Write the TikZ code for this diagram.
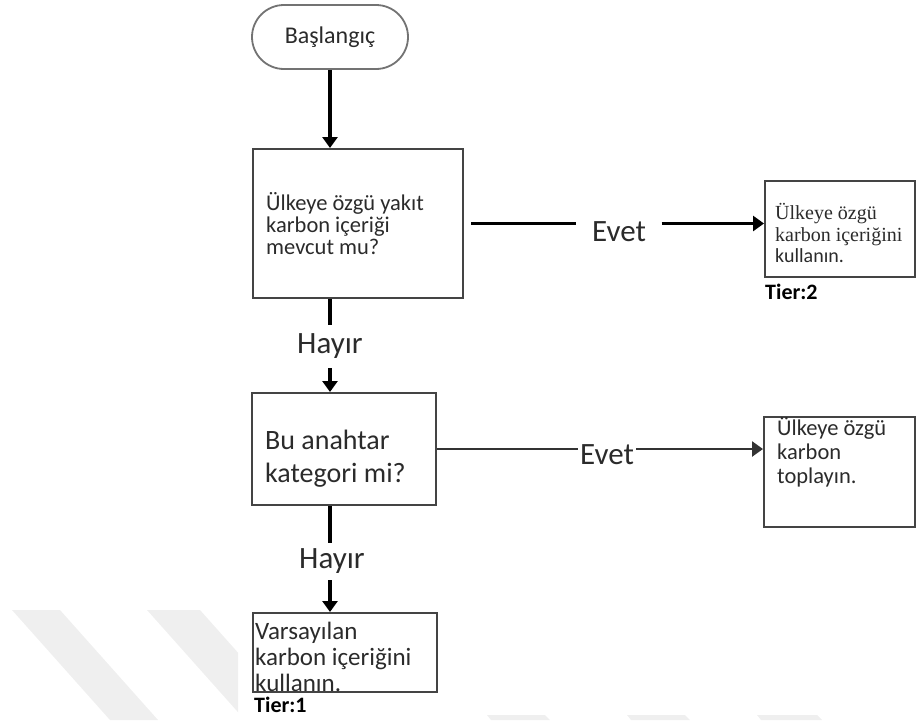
\documentclass[tikz,border=0pt]{standalone}
\usepackage{fontspec}
\setmainfont{Carlito}
\newfontfamily\serifff{Liberation Serif}
\usetikzlibrary{arrows.meta,shapes.misc}
\definecolor{txt}{HTML}{2B2B2B}
\definecolor{bord}{HTML}{444444}
\definecolor{wm}{HTML}{EFEFEF}
\tikzset{
  box/.style={draw=bord,line width=2pt,fill=white,inner sep=0pt},
  lbl/.style={inner sep=0pt,anchor=west,align=left,text=txt},
  con/.style={line width=3.5pt,black},
  arr/.style={con,-{Triangle[length=11pt,width=15pt]}},
  yn/.style={inner sep=0pt,text=txt,font={\fontsize{31}{31}\selectfont}},
  tier/.style={inner sep=0pt,anchor=west,text=black,font={\fontsize{22}{22}\selectfont\bfseries}}
}
\begin{document}
\begin{tikzpicture}[x=1pt,y=-1pt]
\useasboundingbox (0,0) rectangle (917,720);
% watermark stripes
\fill[wm] (12,610) -- (60,610) -- (158,720) -- (110,720) -- cycle;
\begin{scope}
\clip (0,600) rectangle (238,720);
\fill[wm] (147,610) -- (200,610) -- (298,720) -- (245,720) -- cycle;
\end{scope}
\fill[wm] (487,715) -- (545,715) -- (550,720) -- (491,720) -- cycle;
\fill[wm] (627,715) -- (685,715) -- (690,720) -- (631,720) -- cycle;
\fill[wm] (757,715) -- (817,715) -- (822,720) -- (761,720) -- cycle;

% start
\node[rounded rectangle,draw=black!55,line width=1.8pt,fill=white,minimum width=156pt,minimum height=64pt,inner sep=0pt,text=txt,font={\fontsize{24}{24}\selectfont}] (start) at (330,37) {Başlangıç};

% box 1
\node[box,minimum width=210pt,minimum height=149pt] (b1) at (358,223.5) {};
\node[lbl,font={\fontsize{22.5}{22}\selectfont}] (b1t) at (266,224) {Ülkeye özgü yakıt\\karbon içeriği\\mevcut mu?};

% box tier 2
\node[box,minimum width=150pt,minimum height=96pt] (b3) at (840,229) {};
\node[lbl,font={\fontsize{20}{21.5}\selectfont}] (b3t) at (775,233) {{\serifff Ülkeye özgü}\\{\serifff karbon içeriğini}\\kullanın.};
\node[tier] (tier2) at (765,292) {Tier:2};

% box 2
\node[box,minimum width=184pt,minimum height=112pt] (b2) at (344,449) {};
\node[lbl,font={\fontsize{28}{33}\selectfont}] (b2t) at (265,459) {Bu anahtar\\kategori mi?};

% box carbon
\node[box,minimum width=151pt,minimum height=110pt] (b4) at (839.5,472) {};
\node[lbl,font={\fontsize{22.5}{24}\selectfont}] (b4t) at (777,452) {Ülkeye özgü\\karbon\\toplayın.};

% box default
\node[box,minimum width=184pt,minimum height=79pt] (b5) at (345,652.5) {};
\node[lbl,font={\fontsize{25}{26}\selectfont}] (b5t) at (255,657) {Varsayılan\\karbon içeriğini\\kullanın.};
\node[tier] (tier1) at (254,705) {Tier:1};

% labels
\node[yn,minimum height=43pt] (h1) at (330,346.5) {Hayır};
\node[yn,minimum height=37pt] (h2) at (332,561.5) {Hayır};
\node[yn,minimum width=85pt] (e1) at (619,232) {Evet};
\node[yn,inner xsep=2pt] (e2) at (607,455) {Evet};

% connectors
\draw[arr] (start.south) -- (start.south |- b1.north);
\draw[con] (b1.south -| start.south) -- (h1.north -| start.south);
\draw[arr] (h1.south -| start.south) -- (start.south |- b2.north);
\draw[con] (b2.south -| start.south) -- (h2.north -| start.south);
\draw[arr] (h2.south -| start.south) -- (start.south |- b5.north);
\draw[con,line width=3pt] ([xshift=7pt]b1.east) -- (b1.east -| e1.west);
\draw[arr,line width=3pt] (b1.east -| e1.east) -- (b1.east -| b3.west);
\draw[con,line width=2.5pt,black!80] (b2.east) -- (b2.east -| e2.west);
\draw[arr,line width=2.5pt,black!80] (b2.east -| e2.east) -- (b2.east -| b4.west);
\end{tikzpicture}
\end{document}
